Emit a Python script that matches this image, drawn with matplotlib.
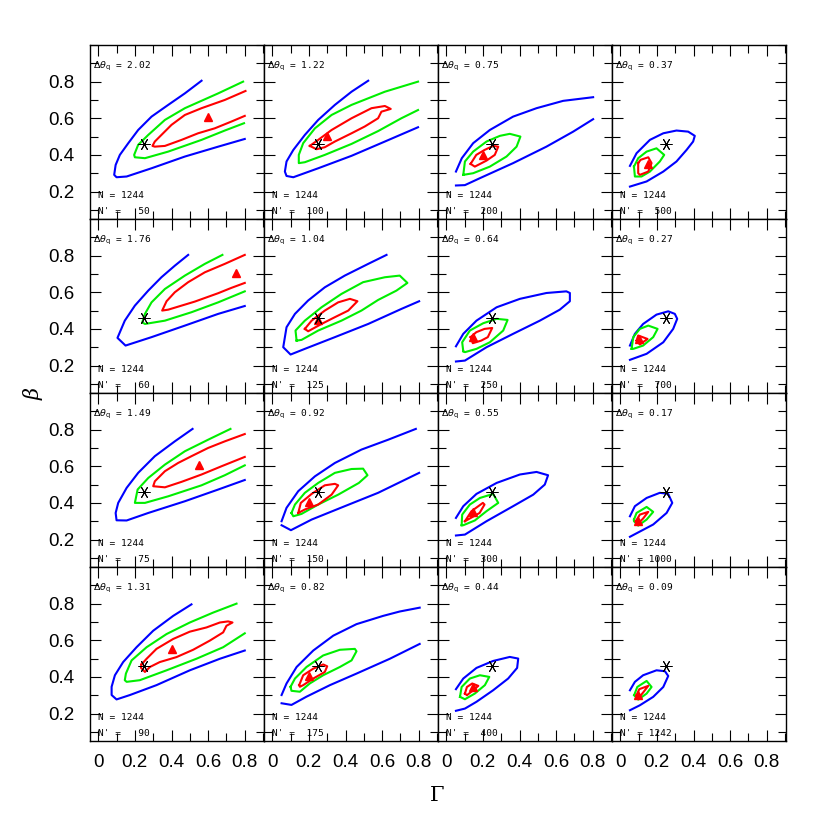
import matplotlib
matplotlib.use("Agg")
import matplotlib.pyplot as plt
from matplotlib.ticker import MultipleLocator, FuncFormatter

# ---------------- data (row-major order of the 4x4 grid) ----------------
DTHETA = [2.02, 1.22, 0.75, 0.37,
          1.76, 1.04, 0.64, 0.27,
          1.49, 0.92, 0.55, 0.17,
          1.31, 0.82, 0.44, 0.09]
NPRIME = [50, 100, 200, 500,
          60, 125, 250, 700,
          75, 150, 300, 1000,
          90, 175, 400, 1242]
N_TOTAL = 1244

TRUE_GAMMA = 0.25
TRUE_BETA = 0.457

BEST_GAMMA = [0.600, 0.300, 0.198, 0.153,
              0.753, 0.251, 0.147, 0.104,
              0.551, 0.200, 0.144, 0.098,
              0.404, 0.202, 0.147, 0.098]
BEST_BETA = [0.605, 0.505, 0.400, 0.351,
             0.705, 0.449, 0.355, 0.345,
             0.605, 0.404, 0.351, 0.300,
             0.553, 0.404, 0.345, 0.300]

# outer (blue) confidence contours: list of polylines per panel
BLUE = [
    [[(0.564,0.805),(0.473,0.736),(0.382,0.673),(0.291,0.609),(0.218,0.536),(0.164,0.464),(0.118,0.400),(0.095,0.345),(0.087,0.291),(0.100,0.278),(0.155,0.282),(0.291,0.327),(0.473,0.391),(0.655,0.445),(0.800,0.487)]],
    [[(0.524,0.805),(0.433,0.745),(0.342,0.673),(0.251,0.591),(0.178,0.509),(0.115,0.427),(0.078,0.364),(0.069,0.309),(0.078,0.285),(0.115,0.278),(0.251,0.327),(0.433,0.395),(0.615,0.473),(0.796,0.551)]],
    [[(0.053,0.309),(0.085,0.382),(0.147,0.464),(0.238,0.536),(0.365,0.609),(0.493,0.655),(0.638,0.695),(0.802,0.715)],
     [(0.053,0.233),(0.102,0.235),(0.184,0.273),(0.365,0.355),(0.547,0.445),(0.693,0.527),(0.802,0.595)]],
    [[(0.053,0.340),(0.089,0.409),(0.162,0.482),(0.235,0.518),(0.307,0.533),(0.371,0.527),(0.407,0.504),(0.398,0.473),(0.362,0.427),(0.307,0.364),(0.235,0.309),(0.144,0.255),(0.053,0.227)]],
    [[(0.491,0.804),(0.418,0.745),(0.345,0.682),(0.273,0.609),(0.200,0.527),(0.145,0.445),(0.105,0.351),(0.149,0.309),(0.291,0.355),(0.473,0.418),(0.655,0.482),(0.800,0.525)]],
    [[(0.624,0.804),(0.524,0.755),(0.396,0.691),(0.287,0.627),(0.196,0.555),(0.124,0.482),(0.078,0.409),(0.060,0.300),(0.100,0.260),(0.178,0.291),(0.342,0.355),(0.524,0.427),(0.705,0.509),(0.802,0.551)]],
    [[(0.053,0.305),(0.093,0.373),(0.165,0.445),(0.275,0.518),(0.402,0.564),(0.547,0.596),(0.656,0.605),(0.675,0.596),(0.675,0.551),(0.620,0.505),(0.511,0.445),(0.365,0.373),(0.220,0.300),(0.102,0.227),(0.053,0.222)]],
    [[(0.053,0.309),(0.080,0.373),(0.125,0.427),(0.198,0.478),(0.262,0.496),(0.298,0.482),(0.311,0.455),(0.289,0.400),(0.235,0.327),(0.144,0.264),(0.053,0.231)]],
    [[(0.515,0.804),(0.418,0.736),(0.309,0.655),(0.218,0.564),(0.155,0.482),(0.109,0.400),(0.095,0.345),(0.100,0.305),(0.155,0.304),(0.273,0.345),(0.473,0.409),(0.655,0.473),(0.800,0.525)]],
    [[(0.051,0.300),(0.078,0.373),(0.142,0.464),(0.233,0.545),(0.342,0.618),(0.487,0.691),(0.633,0.745),(0.784,0.804)],
     [(0.051,0.278),(0.102,0.251),(0.215,0.309),(0.396,0.382),(0.578,0.455),(0.802,0.564)]],
    [[(0.053,0.318),(0.093,0.382),(0.165,0.449),(0.275,0.509),(0.402,0.555),(0.493,0.569),(0.556,0.551),(0.538,0.500),(0.475,0.445),(0.365,0.382),(0.220,0.300),(0.102,0.227),(0.053,0.222)]],
    [[(0.053,0.327),(0.080,0.382),(0.144,0.427),(0.216,0.455),(0.262,0.449),(0.284,0.400),(0.253,0.345),(0.180,0.282),(0.053,0.215)]],
    [[(0.509,0.796),(0.409,0.733),(0.300,0.652),(0.209,0.562),(0.136,0.481),(0.091,0.409),(0.073,0.346),(0.073,0.301),(0.100,0.277),(0.173,0.301),(0.318,0.355),(0.500,0.436),(0.664,0.499),(0.800,0.544)]],
    [[(0.051,0.301),(0.078,0.364),(0.133,0.454),(0.224,0.544),(0.333,0.625),(0.460,0.688),(0.605,0.733),(0.696,0.757),(0.805,0.778)],
     [(0.051,0.256),(0.105,0.247),(0.187,0.292),(0.315,0.355),(0.460,0.418),(0.642,0.499),(0.805,0.580)]],
    [[(0.053,0.333),(0.093,0.391),(0.165,0.449),(0.256,0.487),(0.347,0.509),(0.393,0.500),(0.387,0.449),(0.338,0.391),(0.256,0.327),(0.165,0.264),(0.102,0.227),(0.053,0.215)]],
    [[(0.053,0.327),(0.080,0.373),(0.125,0.409),(0.198,0.436),(0.244,0.431),(0.262,0.405),(0.235,0.345),(0.180,0.291),(0.107,0.245),(0.053,0.218)]],
]

# middle (green) contours
GREEN = [
    [[(0.791,0.800),(0.655,0.736),(0.473,0.655),(0.364,0.591),(0.273,0.509),(0.218,0.455),(0.196,0.400),(0.200,0.387),(0.255,0.382),(0.382,0.418),(0.564,0.482),(0.691,0.533),(0.796,0.573)]],
    [[(0.796,0.800),(0.615,0.745),(0.433,0.673),(0.324,0.618),(0.233,0.545),(0.169,0.464),(0.145,0.400),(0.145,0.355),(0.178,0.360),(0.287,0.400),(0.433,0.460),(0.578,0.530),(0.705,0.600),(0.796,0.645)]],
    [[(0.093,0.291),(0.102,0.364),(0.147,0.418),(0.220,0.473),(0.293,0.504),(0.347,0.515),(0.405,0.500),(0.384,0.445),(0.329,0.391),(0.238,0.336),(0.147,0.300),(0.093,0.291)]],
    [[(0.075,0.336),(0.098,0.382),(0.144,0.418),(0.198,0.436),(0.240,0.400),(0.216,0.364),(0.162,0.309),(0.116,0.282),(0.080,0.282),(0.075,0.336)]],
    [[(0.678,0.804),(0.582,0.755),(0.473,0.691),(0.364,0.618),(0.291,0.545),(0.255,0.482),(0.240,0.436),(0.255,0.427),(0.364,0.445),(0.509,0.491),(0.655,0.545),(0.800,0.605)]],
    [[(0.133,0.336),(0.127,0.391),(0.178,0.445),(0.269,0.518),(0.378,0.591),(0.496,0.655),(0.615,0.682),(0.696,0.691),(0.738,0.651),(0.678,0.609),(0.578,0.558),(0.487,0.500),(0.378,0.445),(0.251,0.391),(0.160,0.340),(0.133,0.336)]],
    [[(0.093,0.278),(0.087,0.327),(0.129,0.391),(0.202,0.431),(0.275,0.455),(0.335,0.449),(0.311,0.391),(0.238,0.327),(0.165,0.291),(0.102,0.273),(0.093,0.278)]],
    [[(0.062,0.291),(0.071,0.355),(0.107,0.400),(0.153,0.418),(0.204,0.400),(0.180,0.355),(0.125,0.309),(0.071,0.291),(0.062,0.291)]],
    [[(0.722,0.804),(0.600,0.745),(0.473,0.682),(0.364,0.609),(0.273,0.536),(0.215,0.473),(0.200,0.400),(0.255,0.400),(0.382,0.436),(0.564,0.496),(0.691,0.551),(0.800,0.605)]],
    [[(0.105,0.345),(0.124,0.391),(0.178,0.455),(0.251,0.509),(0.342,0.564),(0.433,0.585),(0.496,0.587),(0.520,0.551),(0.473,0.509),(0.360,0.445),(0.251,0.391),(0.160,0.340),(0.115,0.327),(0.105,0.345)]],
    [[(0.084,0.278),(0.087,0.336),(0.129,0.391),(0.184,0.427),(0.256,0.449),(0.284,0.400),(0.220,0.355),(0.156,0.304),(0.093,0.278),(0.084,0.278)]],
    [[(0.075,0.309),(0.089,0.345),(0.144,0.378),(0.180,0.351),(0.144,0.309),(0.098,0.276),(0.075,0.300),(0.075,0.309)]],
    [[(0.755,0.800),(0.627,0.751),(0.500,0.697),(0.373,0.634),(0.264,0.562),(0.182,0.490),(0.151,0.418),(0.145,0.382),(0.155,0.373),(0.227,0.382),(0.373,0.436),(0.536,0.499),(0.682,0.562),(0.800,0.638)]],
    [[(0.100,0.346),(0.124,0.391),(0.187,0.454),(0.278,0.517),(0.369,0.548),(0.451,0.553),(0.460,0.540),(0.433,0.490),(0.369,0.454),(0.278,0.409),(0.205,0.364),(0.151,0.319),(0.105,0.324),(0.100,0.346)]],
    [[(0.075,0.291),(0.084,0.345),(0.129,0.391),(0.184,0.409),(0.235,0.400),(0.211,0.355),(0.156,0.309),(0.102,0.278),(0.075,0.291)]],
    [[(0.076,0.300),(0.093,0.345),(0.144,0.378),(0.171,0.345),(0.144,0.309),(0.098,0.276),(0.076,0.300)]],
]

# inner (red) contours
RED = [
    [[(0.804,0.749),(0.691,0.700),(0.564,0.655),(0.473,0.618),(0.400,0.564),(0.345,0.509),(0.309,0.473),(0.296,0.449),(0.309,0.445),(0.364,0.449),(0.455,0.482),(0.545,0.518),(0.636,0.545),(0.727,0.582),(0.800,0.613)]],
    [[(0.205,0.449),(0.251,0.482),(0.324,0.536),(0.433,0.600),(0.542,0.655),(0.615,0.667),(0.647,0.651),(0.596,0.636),(0.578,0.600),(0.505,0.555),(0.433,0.518),(0.342,0.473),(0.287,0.442),(0.242,0.431),(0.205,0.449)]],
    [[(0.133,0.351),(0.164,0.400),(0.209,0.427),(0.256,0.449),(0.284,0.445),(0.265,0.400),(0.220,0.369),(0.156,0.336),(0.133,0.351)]],
    [[(0.098,0.355),(0.111,0.373),(0.153,0.387),(0.171,0.355),(0.153,0.309),(0.107,0.291),(0.098,0.300),(0.098,0.355)]],
    [[(0.800,0.804),(0.691,0.755),(0.582,0.709),(0.491,0.655),(0.418,0.600),(0.373,0.551),(0.349,0.500),(0.382,0.505),(0.527,0.549),(0.655,0.595),(0.727,0.624),(0.800,0.651)]],
    [[(0.178,0.400),(0.215,0.445),(0.287,0.500),(0.360,0.545),(0.424,0.564),(0.465,0.551),(0.415,0.500),(0.342,0.464),(0.269,0.427),(0.196,0.387),(0.178,0.400)]],
    [[(0.133,0.355),(0.164,0.382),(0.209,0.400),(0.251,0.405),(0.227,0.355),(0.191,0.336),(0.145,0.322),(0.133,0.355)]],
    [[(0.089,0.336),(0.098,0.364),(0.149,0.345),(0.107,0.315),(0.089,0.336)]],
    [[(0.800,0.776),(0.691,0.736),(0.600,0.700),(0.509,0.655),(0.436,0.618),(0.364,0.573),(0.309,0.518),(0.300,0.491),(0.364,0.485),(0.455,0.515),(0.564,0.555),(0.673,0.600),(0.800,0.651)]],
    [[(0.142,0.345),(0.156,0.400),(0.215,0.449),(0.287,0.496),(0.342,0.504),(0.360,0.496),(0.324,0.445),(0.251,0.391),(0.178,0.364),(0.142,0.345)]],
    [[(0.102,0.300),(0.138,0.355),(0.200,0.400),(0.209,0.391),(0.182,0.345),(0.129,0.315),(0.102,0.300)]],
    [[(0.085,0.300),(0.107,0.336),(0.153,0.351),(0.125,0.315),(0.098,0.287),(0.085,0.300)]],
    [[(0.236,0.468),(0.264,0.499),(0.318,0.553),(0.409,0.607),(0.500,0.647),(0.591,0.670),(0.664,0.697),(0.709,0.703),(0.733,0.697),(0.700,0.679),(0.682,0.643),(0.609,0.598),(0.518,0.548),(0.427,0.508),(0.336,0.481),(0.282,0.454),(0.255,0.427),(0.233,0.450),(0.236,0.468)]],
    [[(0.147,0.355),(0.169,0.409),(0.224,0.445),(0.278,0.468),(0.300,0.458),(0.287,0.427),(0.224,0.391),(0.169,0.355),(0.151,0.346),(0.147,0.355)]],
    [[(0.102,0.309),(0.113,0.345),(0.142,0.364),(0.175,0.351),(0.147,0.327),(0.113,0.300),(0.102,0.309)]],
    [[(0.089,0.300),(0.104,0.333),(0.153,0.351),(0.125,0.315),(0.098,0.282),(0.089,0.300)]],
]

X_TICKS = [0, 0.2, 0.4, 0.6, 0.8]
Y_TICKS = [0.2, 0.4, 0.6, 0.8]

# ---------------- figure ----------------
plt.rcParams['mathtext.fontset'] = 'dejavusans'
fig = plt.figure(figsize=(8.3, 8.3), dpi=100)

left, bottom = 90 / 830, 1 - 741 / 830
pw = ph = 174 / 830

def fmt(v, pos):
    return "0" if abs(v) < 1e-9 else f"{v:.1f}"

LW = 1.5
for k in range(16):
    r, c = divmod(k, 4)
    ax = fig.add_axes([left + c * pw, bottom + (3 - r) * ph, pw, ph])
    ax.set_xlim(-0.045, 0.905)
    ax.set_ylim(0.05, 1.0)
    for seg in BLUE[k]:
        ax.plot([p[0] for p in seg], [p[1] for p in seg], color='#0000ff', lw=LW, solid_joinstyle='round')
    for seg in GREEN[k]:
        ax.plot([p[0] for p in seg], [p[1] for p in seg], color='#00ee00', lw=LW, solid_joinstyle='round')
    for seg in RED[k]:
        ax.plot([p[0] for p in seg], [p[1] for p in seg], color='#ff0000', lw=LW, solid_joinstyle='round')
    ax.plot([BEST_GAMMA[k]], [BEST_BETA[k]], marker='^', color='#ff0000', ms=5.5, ls='none')
    ax.plot([TRUE_GAMMA], [TRUE_BETA], marker=(6, 2, 90), color='black', ms=8.5, mew=0.7, ls='none')

    ax.text(0.019, 0.879, r'$\Delta\theta_{\rm q}$' + f' = {DTHETA[k]:.2f}', transform=ax.transAxes,
            fontsize=6.8, family='DejaVu Sans Mono', va='center', ha='left')
    ax.text(0.048, 0.136, f'N = {N_TOTAL}', transform=ax.transAxes,
            fontsize=6.8, family='DejaVu Sans Mono', va='center', ha='left')
    ax.text(0.048, 0.042, f"N' = {NPRIME[k]:4d}", transform=ax.transAxes,
            fontsize=6.8, family='DejaVu Sans Mono', va='center', ha='left')

    ax.set_xticks(X_TICKS)
    ax.set_yticks(Y_TICKS)
    ax.xaxis.set_minor_locator(MultipleLocator(0.1))
    ax.yaxis.set_minor_locator(MultipleLocator(0.1))
    ax.xaxis.set_major_formatter(FuncFormatter(fmt))
    ax.yaxis.set_major_formatter(FuncFormatter(fmt))
    ax.tick_params(which='both', direction='in', top=True, right=True, width=0.8, color='black')
    ax.tick_params(which='major', length=8)
    ax.tick_params(which='minor', length=6)
    ax.tick_params(axis='x', which='major', pad=9, labelsize=13.5, labelbottom=(r == 3))
    ax.tick_params(axis='y', which='major', pad=11, labelsize=13.5, labelleft=(c == 0))
    for lab in ax.get_xticklabels() + ax.get_yticklabels():
        lab.set_family('Liberation Sans')
    for s in ax.spines.values():
        s.set_linewidth(1.0)

fig.text(437 / 830, 1 - 795 / 830, r'$\Gamma$', fontsize=15, ha='center', va='center',
         math_fontfamily='dejavuserif')
fig.text(33 / 830, 1 - 393 / 830, r'$\beta$', fontsize=15, ha='center', va='center',
         rotation=90, math_fontfamily='dejavuserif')

fig.savefig('out.png', dpi=100)
